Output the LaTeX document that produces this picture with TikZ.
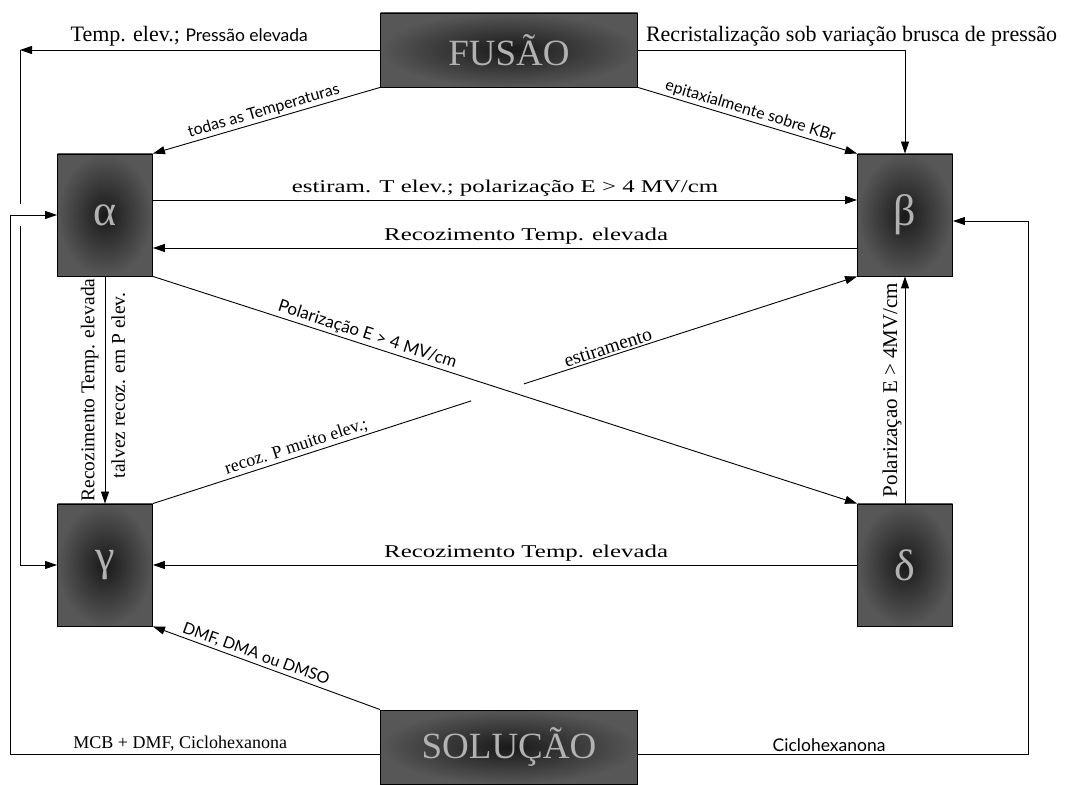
\documentclass[tikz,border=0pt]{standalone}
\usepackage{fontspec}
\setmainfont{Liberation Serif}
\newfontfamily\optfont{Lato}
\usetikzlibrary{arrows.meta,calc}

\tikzset{
  phase/.style={draw=black, shading=radial, inner color=black!90, outer color=black!66,
    text=black!30, minimum width=95pt, minimum height=122pt, inner sep=0pt,
    font=\fontsize{44}{44}\selectfont},
  state/.style={phase, minimum width=257pt, minimum height=74pt,
    font=\fontsize{37}{37}\selectfont},
  toplbl/.style={font=\fontsize{22}{22}\selectfont, inner sep=3pt},
  lbl/.style={font=\fontsize{18}{18}\selectfont, inner sep=2pt},
  widelbl/.style={font=\fontsize{18}{18}\selectfont\addfontfeature{FakeStretch=1.38}, inner sep=3pt},
  vlbl/.style={font=\fontsize{19.5}{19.5}\selectfont, inner sep=6pt},
  opt/.style={font=\optfont\fontsize{16}{16}\selectfont, inner sep=2pt},
}

\begin{document}
\begin{tikzpicture}[x=1pt, y=1pt, >={Triangle[length=12pt,width=8pt]}, line width=0.9pt]
  \useasboundingbox (0,0) rectangle (1067,784);

  % Fusao e solucao
  \node[state] (fus) at (509,734) {FUSÃO};
  \node[state] (sol) at (509,37) {SOLUÇÃO};

  % Fases
  \node[phase] (alpha) at (105,569) {α};
  \node[phase] (beta) at (905,569) {β};
  \node[phase] (gam) at (105,219) {γ};
  \node[phase] (delta) at (905,219) {δ};

  % A partir da fusao
  \coordinate (tl) at (20,734);
  \coordinate (gapA) at (20,580);
  \coordinate (gapB) at (20,558);
  \draw[->] (fus.west) -- node[pos=0.53, above, toplbl] {Temp. elev.; {\optfont\fontsize{17.5}{17.5}\selectfont Pressão elevada}} (tl);
  \draw (tl) -- (gapA);
  \draw[->] (gapB) |- (gam.west);
  \draw[->] (fus.east) -| node[pos=0.4, above, toplbl] {Recristalização sob variação brusca de pressão} (beta.north);
  \draw[->] (fus.south west) -- node[sloped, above, opt] {todas as Temperaturas} (alpha.north east);
  \draw[->] (fus.south east) -- node[sloped, above, opt] {epitaxialmente sobre KBr} (beta.north west);

  % Entre alfa e beta
  \draw[->] ([yshift=15pt]alpha.east) -- node[above, widelbl] {estiram. T elev.; polarização E > 4 MV/cm} ([yshift=15pt]beta.west);
  \draw[->] ([yshift=-33pt]beta.west) -- node[pos=0.47, above, widelbl] {Recozimento Temp. elevada} ([yshift=-33pt]alpha.east);

  % Diagonais (a linha gama-beta interrompida no cruzamento)
  \draw[->] (alpha.south east) -- node[pos=0.3, sloped, above, opt, font=\optfont\fontsize{17}{17}\selectfont] {Polarização E > 4 MV/cm} (delta.north west);
  \coordinate (cutA) at ($(gam.north east)!0.452!(beta.south west)$);
  \coordinate (cutB) at ($(gam.north east)!0.527!(beta.south west)$);
  \draw (gam.north east) -- node[pos=0.46, sloped, above, lbl] {recoz. P muito elev.;} (cutA);
  \draw[->] (cutB) -- node[pos=0.26, sloped, above, lbl, font=\fontsize{19.5}{19.5}\selectfont] {estiramento} (beta.south west);

  % Verticais
  \draw[->] (alpha.south) -- node[midway, rotate=90, anchor=south, vlbl] {Recozimento Temp. elevada}
    node[pos=0.48, rotate=90, anchor=north, vlbl] {talvez recoz. em P elev.} (gam.north);
  \draw[->] (delta.north) -- node[midway, rotate=90, anchor=south, vlbl, inner sep=3pt, font=\fontsize{21}{21}\selectfont] {Polarizaçao E > 4MV/cm} (beta.south);
  \draw[->] (delta.west) -- node[pos=0.47, above, widelbl] {Recozimento Temp. elevada} (gam.east);

  % A partir da solucao
  \coordinate (mcb) at (10,30);
  \coordinate (cic) at (1028,30);
  \draw[->] ([yshift=-7pt]sol.west) -- node[pos=0.54, above, lbl] {MCB + DMF, Ciclohexanona} (mcb) |- (alpha.west);
  \draw[->] ([yshift=-7pt]sol.east) -- node[pos=0.49, above, opt, font=\optfont\fontsize{17.5}{17.5}\selectfont] {Ciclohexanona} (cic) |- ([yshift=-6pt]beta.east);
  \draw[->] (sol.north west) -- node[pos=0.56, sloped, above, opt] {DMF, DMA ou DMSO} (gam.south east);
\end{tikzpicture}
\end{document}
